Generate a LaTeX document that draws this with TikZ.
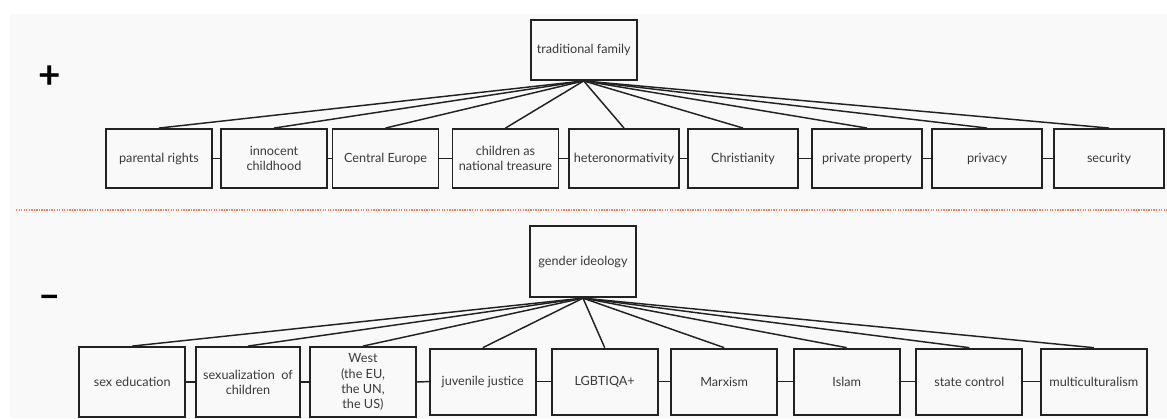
\documentclass[tikz,border=0pt]{standalone}
\usepackage{fontspec}
\setmainfont{Lato}
\definecolor{fond}{RGB}{249,249,249}
\definecolor{trait}{RGB}{34,34,34}
\definecolor{texte}{RGB}{58,58,58}
\definecolor{pointille}{RGB}{250,128,88}
\tikzset{
	boite/.style={draw=trait, line width=1.4pt, fill=fond, text=texte, align=center,
		inner sep=0pt, minimum width=79.5pt, minimum height=44.25pt,
		font=\fontsize{9.5}{11.4}\selectfont},
	lien/.style={draw=trait, line width=1.1pt},
	signe/.style={text=black, font=\fontsize{29}{29}\selectfont\bfseries}
}
\begin{document}
\begin{tikzpicture}[x=0.75pt,y=-0.75pt]
					\useasboundingbox (0,0) rectangle (1167,418);
					%FOND
					\fill[fond] (10,14) rectangle (1167,418);
					\draw[pointille, line width=1.3pt, dash pattern=on 1pt off 0.9pt] (16,210.3) -- (1167,210.3);
					%SIGNES
					\node[signe] (plus) at (50,77) {+};
					\node[signe] (moins) at (50,302) {–};
					%VALEURS POSITIVES
					\node[boite, minimum height=45pt] (tf) at (583.7,50) {traditional family};
					\node[boite] (pr) at (159,158.5) {parental rights};
					\node[boite] (ic) at (274,158.5) {innocent\\childhood};
					\node[boite] (ce) at (385.5,158.5) {Central Europe};
					\node[boite] (cn) at (505.5,158.5) {children as\\national treasure};
					\node[boite, minimum width=82pt] (he) at (624,158.5) {heteronormativity};
					\node[boite, minimum width=82pt] (ch) at (743,158.5) {Christianity};
					\node[boite, minimum width=82pt] (pp) at (867,158.5) {private property};
					\node[boite, minimum width=82pt] (pv) at (987,158.5) {privacy};
					\node[boite, minimum width=82pt] (se) at (1109,158.5) {security};
					\foreach \n in {pr,ic,ce,cn,he,ch,pp,pv,se}
						\draw[lien] (tf.south) -- (\n.north);
					\foreach \a/\b in {pr/ic,ic/ce,ce/cn,cn/he,he/ch,ch/pp,pp/pv,pv/se}
						\draw[lien] (\a.east) -- (\b.west);
					%VALEURS NEGATIVES
					\node[boite, minimum height=53.25pt] (gi) at (583,261.7) {gender ideology};
					\node[boite, minimum height=52.5pt] (ed) at (132.3,382) {sex education};
					\node[boite, minimum height=52.5pt, minimum width=78.5pt] (sx) at (248,382) {sexualization~ of\\children};
					\node[boite, minimum height=52.5pt] (we) at (363,382) {West\\(the EU,\\the UN,\\the US)};
					\node[boite, minimum height=49.5pt] (jj) at (482.8,381.6) {juvenile justice};
					\node[boite, minimum height=49.5pt] (lg) at (604.7,381.6) {LGBTIQA+};
					\node[boite, minimum height=49.5pt] (ma) at (724.2,381.6) {Marxism};
					\node[boite, minimum height=49.5pt] (is) at (846.7,381.6) {Islam};
					\node[boite, minimum height=49.5pt] (sc) at (969.3,381.6) {state control};
					\node[boite, minimum height=49.5pt] (mu) at (1093.8,381.6) {multiculturalism};
					\foreach \n in {ed,sx,we,jj,lg,ma,is,sc,mu}
						\draw[lien] (gi.south) -- (\n.north);
					\foreach \a/\b in {ed/sx,sx/we,we/jj,jj/lg,lg/ma,ma/is,is/sc,sc/mu}
						\draw[lien] (\a.east) -- (\b.west);
				  \end{tikzpicture}
\end{document}
